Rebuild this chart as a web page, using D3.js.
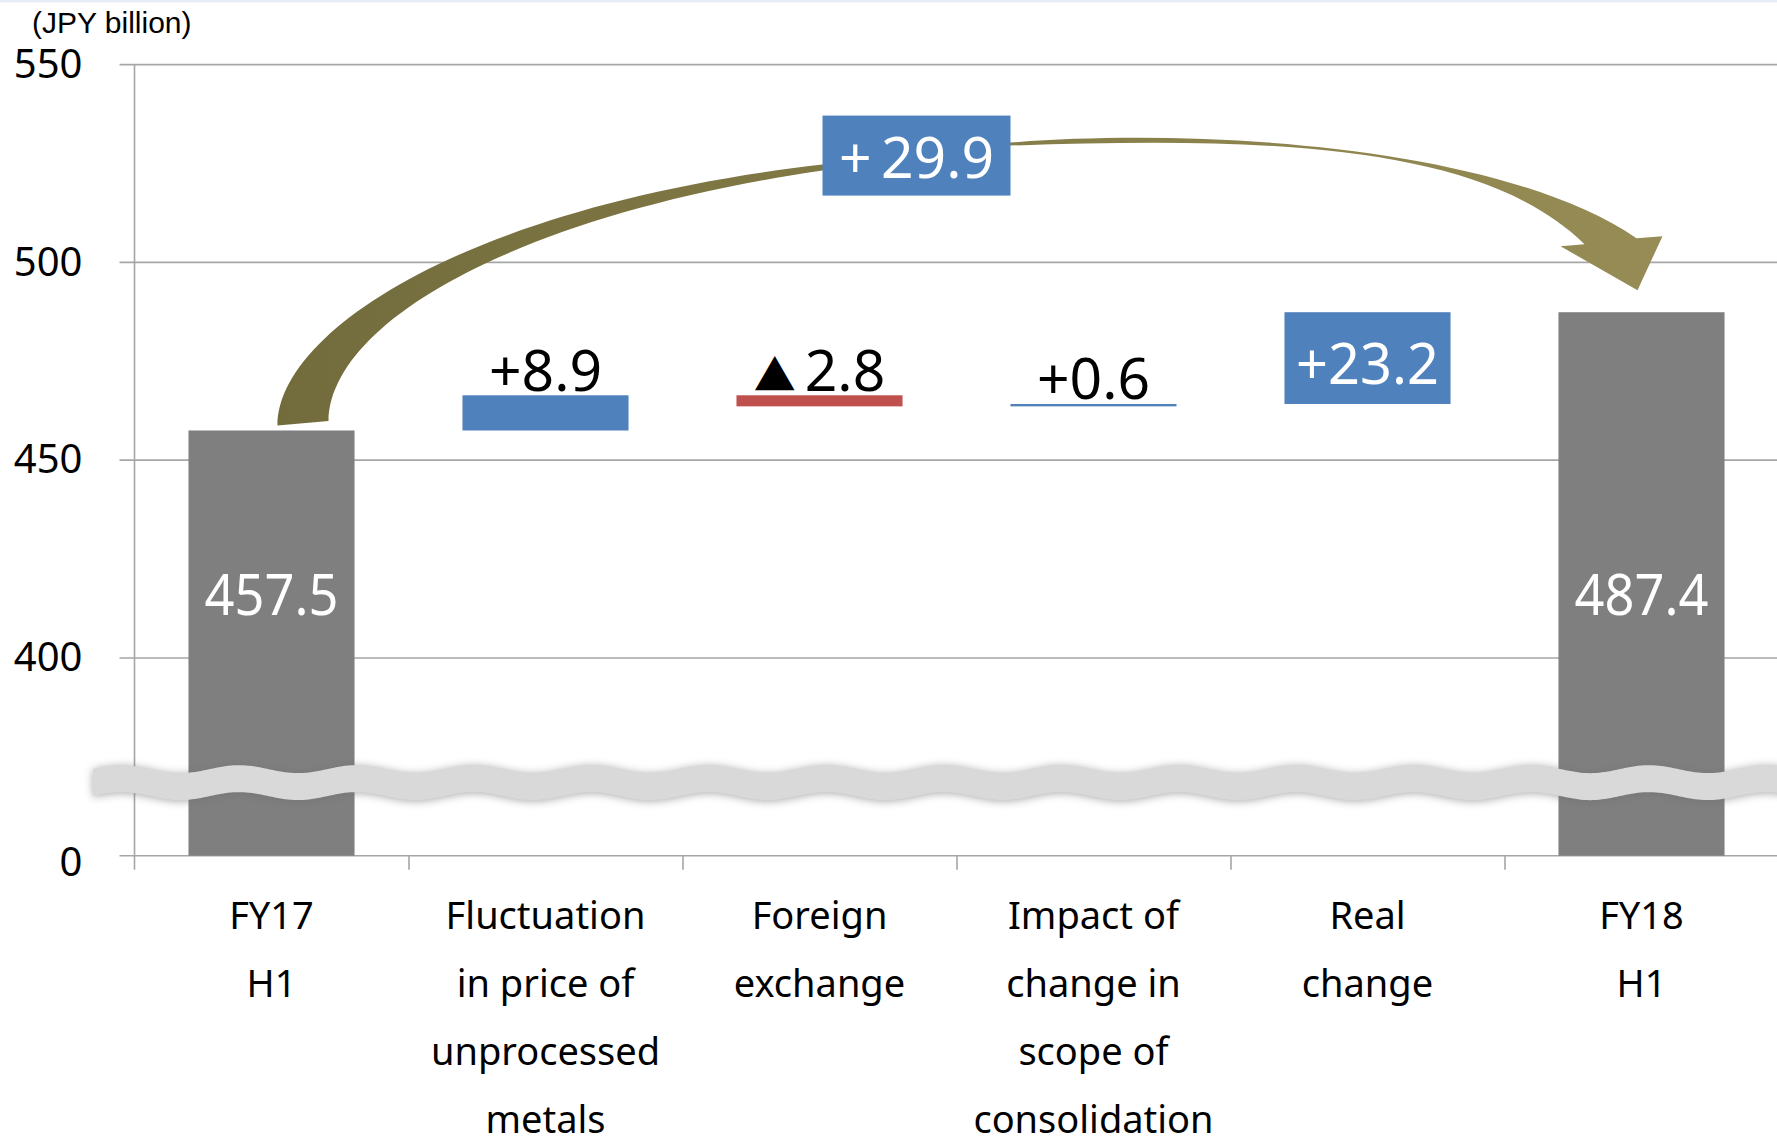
<!DOCTYPE html>
<html>
<head>
<meta charset="utf-8">
<script src="https://cdn.jsdelivr.net/npm/d3@7/dist/d3.min.js"></script>
<style>
    html, body { margin: 0; padding: 0; background: #fff; }
    svg { display: block; }
    .num { font-family: "Noto Sans", "Noto Sans CJK JP", sans-serif; font-size: 57px; }
    .cat { font-family: "Noto Sans", sans-serif; font-size: 38px; fill: #000; }
    .ylab { font-family: "Noto Sans", sans-serif; font-size: 40px; fill: #000; }
    .unit { font-family: "Liberation Sans", Arial, sans-serif; font-size: 30px; fill: #000; }
</style>
</head>
<body>
<div id="chart"></div>
<script>
"use strict";

// Waterfall data (JPY billion)
const categories = [
    ["FY17", "H1"],
    ["Fluctuation", "in price of", "unprocessed", "metals"],
    ["Foreign", "exchange"],
    ["Impact of", "change in", "scope of", "consolidation"],
    ["Real", "change"],
    ["FY18", "H1"]
];
const stepKinds = ["total", "change", "change", "change", "change", "total"];
const stepValues = [457.5, 8.9, -2.8, 0.6, 23.2, 487.4];
const valueLabels = ["457.5", "+8.9", "\u25B22.8", "+0.6", "+23.2", "487.4"];
const yTickValues = [350, 400, 450, 500, 550];
const yTickLabels = ["0", "400", "450", "500", "550"];
const totalChangeLabel = "+\u200929.9";

const W = 1777, H = 1143;
const margin = {left: 134.5, top: 64.6, bottom: 855.7};

const svg = d3.select("#chart").append("svg")
    .attr("width", W)
    .attr("height", H);

svg.append("rect").attr("width", W).attr("height", 2.5).attr("fill", "#e8eef6");

// the axis is broken: everything below 350 is squeezed into the "0" step
const axisFloor = yTickValues[0];
const y = d3.scaleLinear()
    .domain([axisFloor, yTickValues[yTickValues.length - 1]])
    .range([margin.bottom, margin.top]);

const step = 274;
const x = d3.scaleBand()
    .domain(d3.range(categories.length))
    .range([margin.left, margin.left + step * categories.length])
    .paddingInner(0.394)
    .paddingOuter(0.197);
const xEdges = d3.scaleLinear()
    .domain([0, categories.length])
    .range(x.range());

// running totals -> bar extents
let running = 0;
const bars = stepValues.map((v, i) => {
    if (stepKinds[i] === "total") {
        running = v;
        return {i, lo: axisFloor, hi: v, kind: "total"};
    }
    const start = running;
    running += v;
    return {i, lo: Math.min(start, running), hi: Math.max(start, running), kind: v >= 0 ? "up" : "down"};
});
const colors = {total: "#7f7f7f", up: "#4f81bd", down: "#c0504d"};

const defs = svg.append("defs");
const grad = defs.append("linearGradient")
    .attr("id", "arrowGrad")
    .attr("gradientUnits", "userSpaceOnUse")
    .attr("x1", 270).attr("x2", 1665).attr("y1", 0).attr("y2", 0);
grad.append("stop").attr("offset", 0).attr("stop-color", "#726b3c");
grad.append("stop").attr("offset", 0.5).attr("stop-color", "#847c47");
grad.append("stop").attr("offset", 1).attr("stop-color", "#978c55");
const blur = defs.append("filter").attr("id", "soft")
    .attr("x", "-5%").attr("y", "-100%").attr("width", "110%").attr("height", "300%");
blur.append("feGaussianBlur").attr("stdDeviation", 4);

// gridlines
const grid = svg.append("g").attr("class", "grid");
grid.selectAll("line")
    .data(yTickValues)
    .join("line")
    .attr("x1", margin.left - 15)
    .attr("x2", W)
    .attr("y1", d => y(d))
    .attr("y2", d => y(d))
    .attr("stroke", "#a6a6a6")
    .attr("stroke-width", 1.6);

// y axis
const yAxis = d3.axisLeft(y)
    .tickValues(yTickValues)
    .tickFormat((d, i) => yTickLabels[i])
    .tickSize(0)
    .tickPadding(52);
const gy = svg.append("g")
    .attr("transform", `translate(${margin.left},0)`)
    .call(yAxis);
gy.select(".domain").remove();
gy.selectAll("text")
    .attr("class", "ylab")
    .attr("font-family", null)
    .attr("font-size", null)
    .attr("dy", (d, i) => i === 0 ? "0.5em" : "0.32em");
svg.append("line")
    .attr("x1", margin.left).attr("x2", margin.left)
    .attr("y1", y(yTickValues[yTickValues.length - 1]))
    .attr("y2", margin.bottom + 14)
    .attr("stroke", "#a6a6a6").attr("stroke-width", 1.6);

// x axis ticks at category boundaries
const xAxis = d3.axisBottom(xEdges)
    .tickValues(d3.range(1, categories.length))
    .tickFormat("")
    .tickSize(14)
    .tickSizeOuter(0);
const gx = svg.append("g")
    .attr("transform", `translate(0,${margin.bottom})`)
    .call(xAxis);
gx.select(".domain").remove();
gx.selectAll("line").attr("stroke", "#a6a6a6").attr("stroke-width", 1.6);

svg.append("text")
    .attr("class", "unit")
    .attr("x", 32)
    .attr("y", 33)
    .text("(JPY billion)");

// bars
svg.append("g")
    .selectAll("rect")
    .data(bars)
    .join("rect")
    .attr("x", d => x(d.i))
    .attr("width", x.bandwidth())
    .attr("y", d => y(d.hi))
    .attr("height", d => Math.max(y(d.lo) - y(d.hi), 1))
    .attr("fill", d => colors[d.kind]);

// axis break band
const breakAt = 368.6;
const yc = y(breakAt);
const waveTop = xx => yc - 13 - 4 * Math.cos(2 * Math.PI * (xx - 239) / 117.5);
const xs = d3.range(93, W + 12, 3);
const bandPts = xs.map(xx => [xx, waveTop(xx)])
    .concat(xs.slice().reverse().map(xx => [xx, waveTop(xx) + 27]));
const bandPath = d3.line().curve(d3.curveLinearClosed)(bandPts);
svg.append("path")
    .attr("d", bandPath)
    .attr("fill", "#6e6e6e")
    .attr("opacity", 0.6)
    .attr("transform", "translate(0,1)")
    .attr("filter", "url(#soft)");
svg.append("path")
    .attr("d", bandPath)
    .attr("fill", "#d9d9d9");

// value labels
const labelLevel = 416;
const labels = svg.append("g").attr("class", "num");
bars.forEach((d, i) => {
    const cx = x(d.i) + x.bandwidth() / 2;
    const pxHeight = y(d.lo) - y(d.hi);
    let baseY, fill, sx = 1;
    if (d.kind === "total") {
        baseY = y(labelLevel) + 20;
        fill = "#fff";
        sx = 0.92;
    } else if (pxHeight > 60) {
        baseY = (y(d.lo) + y(d.hi)) / 2 + 26;
        fill = "#fff";
        sx = 0.98;
    } else {
        baseY = y(d.hi) - 4.5;
        fill = "#000";
    }
    const t = labels.append("text")
        .attr("text-anchor", "middle")
        .attr("fill", fill)
        .attr("transform", `translate(${cx},${baseY}) scale(${sx},1)`);
    const s = valueLabels[i];
    if (s.startsWith("\u25B2")) {
        t.append("tspan").attr("font-size", "42px").text("\u25B2");
        t.append("tspan").attr("dx", 9).text(s.slice(1));
    } else {
        t.text(s);
    }
});

// category labels
const catG = svg.append("g");
categories.forEach((lines, i) => {
    const t = catG.append("text")
        .attr("class", "cat")
        .attr("text-anchor", "middle")
        .attr("y", margin.bottom + 73);
    lines.forEach((ln, k) => {
        t.append("tspan")
            .attr("x", x(i) + x.bandwidth() / 2)
            .attr("dy", k === 0 ? 0 : 68)
            .text(ln);
    });
});

// curved arrow from first total to last total
const A = [x(0) + x.bandwidth() / 2, y(stepValues[0])];
const last = stepValues.length - 1;
const B = [x(last) + x.bandwidth() / 2, y(stepValues[last])];
const C = [(A[0] + B[0]) / 2 - 40, y(527)];
const p = (o, dx, dy) => `${o[0] + dx},${o[1] + dy}`;
const arrowPath = [
    `M${p(A, 6, -5)}`,
    `C${p(A, 6, -100)} ${p(C, -446, 49)} ${p(C, -94, 9)}`,
    `L${p(C, 94, -13)}`,
    `C${p(C, 284, -28)} ${p(B, -142, -167)} ${p(B, -5, -74)}`,
    `L${p(B, 21, -76)}`,
    `L${p(B, -4, -22)}`,
    `L${p(B, -81, -66)}`,
    `L${p(B, -57, -68)}`,
    `C${p(B, -162, -172)} ${p(C, 334, -18)} ${p(C, 94, -10)}`,
    `L${p(C, -94, 15)}`,
    `C${p(C, -396, 59)} ${p(A, 59, -110)} ${p(A, 57, -9.5)}`,
    "Z"
].join(" ");
svg.append("path")
    .attr("d", arrowPath)
    .attr("fill", "url(#arrowGrad)");

svg.append("rect")
    .attr("x", C[0] - 94)
    .attr("y", C[1] - 40)
    .attr("width", 188)
    .attr("height", 80)
    .attr("fill", "#4f81bd");
svg.append("text")
    .attr("class", "num")
    .attr("text-anchor", "middle")
    .attr("fill", "#fff")
    .attr("x", C[0])
    .attr("y", C[1] + 22)
    .text(totalChangeLabel);
</script>
</body>
</html>
